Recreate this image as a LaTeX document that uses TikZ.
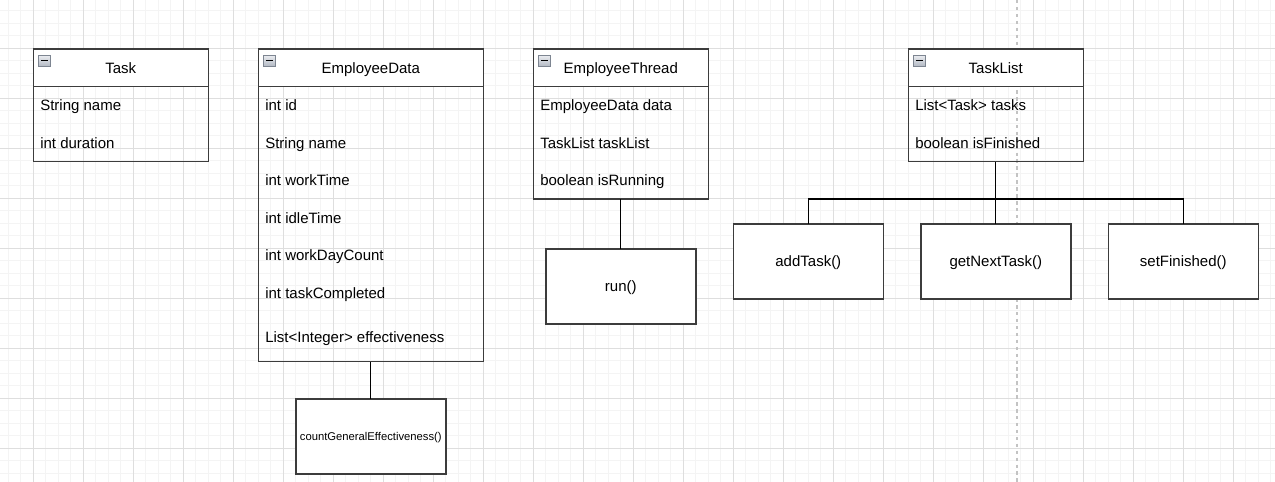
\documentclass[tikz,border=0pt]{standalone}
\usepackage{fontspec}
\setmainfont{Liberation Sans}
\usetikzlibrary{calc}
\definecolor{minorgrid}{RGB}{244,244,244}
\definecolor{majorgrid}{RGB}{222,222,222}
\definecolor{pagebreak}{RGB}{195,195,195}
\definecolor{boxline}{RGB}{60,60,60}
\definecolor{iconline}{RGB}{125,133,145}
\definecolor{icontop}{RGB}{236,238,242}
\definecolor{iconbot}{RGB}{180,186,196}
\begin{document}
\begin{tikzpicture}[x=0.75pt,y=-0.75pt,
  classbody/.style={draw=boxline, line width=1.1pt, anchor=north west, inner sep=0pt, outer sep=0pt},
  classhead/.style={draw=boxline, line width=1.1pt, fill=white, anchor=north west, inner sep=0pt, outer sep=0pt,
    minimum height=28.125pt, font=\fontsize{11.25}{13}\selectfont, text height=10pt, text depth=2pt},
  methbox/.style={draw=boxline, line width=1.1pt, fill=white, anchor=north west, inner sep=0pt, outer sep=0pt,
    minimum width=112.5pt, minimum height=56.25pt, font=\fontsize{11.25}{13}\selectfont, text height=10pt, text depth=2pt},
  smallmeth/.style={methbox, font=\fontsize{8.44}{10}\selectfont, text height=7.5pt, text depth=1.5pt},
  attr/.style={anchor=base west, inner sep=0pt, font=\fontsize{11.25}{13}\selectfont},
  conn/.style={draw=black, line width=0.95pt},
  iconbox/.style={draw=iconline, line width=0.6pt, top color=icontop, bottom color=iconbot},
  iconbar/.style={draw=black, line width=1.3pt}
]
\useasboundingbox (0,0) rectangle (1275,482);
\fill[white] (0,0) rectangle (1275,482);
% grid
\foreach \i in {0,...,101} {\draw[minorgrid, line width=0.8pt] ({8.333+12.5*\i},0) -- ({8.333+12.5*\i},482);}
\foreach \i in {0,...,37} {\draw[minorgrid, line width=0.8pt] (0,{10.833+12.5*\i}) -- (1275,{10.833+12.5*\i});}
\foreach \i in {0,...,24} {\draw[majorgrid, line width=0.6pt] ({33.333+50*\i},0) -- ({33.333+50*\i},482);}
\foreach \i in {0,...,8} {\draw[majorgrid, line width=0.6pt] (0,{48.333+50*\i}) -- (1275,{48.333+50*\i});}
% page break
\draw[pagebreak, line width=0.8pt, dash pattern=on 2.6pt off 2.6pt] (1017,0) -- (1017,482);

% ---- Task
\node[classbody, minimum width=131.25pt, minimum height=84.375pt] (task) at (33.3,49) {};
\node[classhead, minimum width=131.25pt] (taskh) at (task.north west) {Task};
\node[attr] (task1) at (40,110.5) {String name};
\node[attr] (task2) at (40,148) {int duration};

% ---- EmployeeData
\node[classbody, minimum width=168.75pt, minimum height=234.375pt] (ed) at (258.3,49) {};
\node[classhead, minimum width=168.75pt] (edh) at (ed.north west) {EmployeeData};
\node[attr] (ed1) at (265,110.5) {int id};
\node[attr] (ed2) at (265,148) {String name};
\node[attr] (ed3) at (265,185.5) {int workTime};
\node[attr] (ed4) at (265,223) {int idleTime};
\node[attr] (ed5) at (265,260.5) {int workDayCount};
\node[attr] (ed6) at (265,298) {int taskCompleted};
\node[attr] (ed7) at (265,342) {List<Integer> effectiveness};

% ---- EmployeeThread
\node[classbody, minimum width=131.25pt, minimum height=112.5pt] (et) at (533.3,49) {};
\node[classhead, minimum width=131.25pt] (eth) at (et.north west) {EmployeeThread};
\node[attr] (et1) at (540,110.5) {EmployeeData data};
\node[attr] (et2) at (540,148) {TaskList taskList};
\node[attr] (et3) at (540,185.5) {boolean isRunning};

% ---- TaskList
\node[classbody, minimum width=131.25pt, minimum height=84.375pt] (tl) at (908.3,49) {};
\node[classhead, minimum width=131.25pt] (tlh) at (tl.north west) {TaskList};
\node[attr] (tl1) at (915,110.5) {List<Task> tasks};
\node[attr] (tl2) at (915,148) {boolean isFinished};

% collapse icons
\foreach \h in {taskh,edh,eth,tlh} {
  \draw[iconbox] ($(\h.north west)+(5,6)$) rectangle ($(\h.north west)+(17,17)$);
  \draw[iconbar] ($(\h.north west)+(7.5,11.5)$) -- ($(\h.north west)+(14.5,11.5)$);
}

% ---- method boxes
\node[smallmeth] (cge) at (295.8,399) {countGeneralEffectiveness()};
\node[methbox] (run) at (545.8,249) {run()};
\node[methbox] (add) at (733.3,224) {addTask()};
\node[methbox] (gnt) at (920.8,224) {getNextTask()};
\node[methbox] (setf) at (1108.3,224) {setFinished()};

% ---- connectors
\coordinate (tlj) at (995.8,199);
\draw[conn] (ed.south) -- (cge.north);
\draw[conn] (et.south) -- (run.north);
\draw[conn] (tl.south) -- (tlj);
\draw[conn] (tlj) -| (add.north);
\draw[conn] (tlj) -- (gnt.north);
\draw[conn] (tlj) -| (setf.north);
\end{tikzpicture}
\end{document}
